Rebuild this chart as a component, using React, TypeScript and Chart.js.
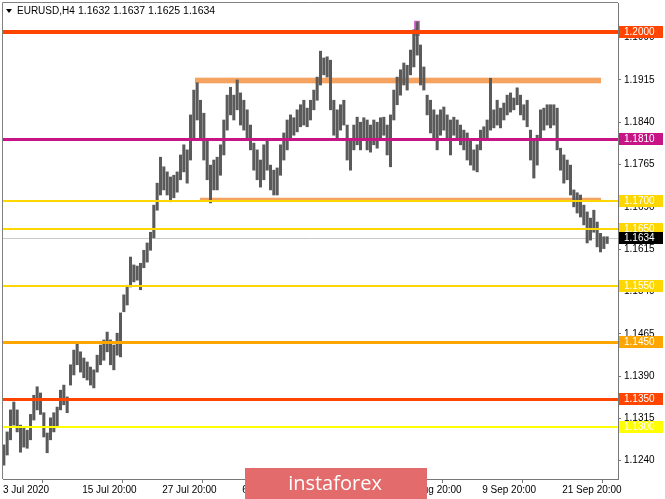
import React, { useEffect, useRef } from "react";
import { Chart, registerables } from "chart.js";
Chart.register(...registerables);

// H4 bars, sampled every 2nd bar (index in H4 bars = 2 * position)
const highs = [
  1.1268, 1.1291, 1.1330, 1.1344, 1.1330, 1.1303, 1.1298, 1.1294, 1.1322, 1.1356,
  1.1371, 1.1360, 1.1325, 1.1289, 1.1316, 1.1325, 1.1335, 1.1365, 1.1374, 1.1353,
  1.1410, 1.1436, 1.1449, 1.1433, 1.1422, 1.1415, 1.1406, 1.1401, 1.1427, 1.1445,
  1.1454, 1.1468, 1.1454, 1.1445, 1.1466, 1.1502, 1.1534, 1.1551, 1.1601, 1.1587,
  1.1585, 1.1590, 1.1613, 1.1626, 1.1645, 1.1693, 1.1732, 1.1778, 1.1761, 1.1752,
  1.1743, 1.1746, 1.1752, 1.1782, 1.1800, 1.1791, 1.1853, 1.1897, 1.1910, 1.1879,
  1.1856, 1.1809, 1.1764, 1.1773, 1.1778, 1.1800, 1.1844, 1.1888, 1.1902, 1.1888,
  1.1915, 1.1892, 1.1879, 1.1862, 1.1835, 1.1803, 1.1791, 1.1773, 1.1800, 1.1809,
  1.1764, 1.1755, 1.1759, 1.1800, 1.1821, 1.1844, 1.1853, 1.1848, 1.1862, 1.1871,
  1.1879, 1.1865, 1.1879, 1.1897, 1.1920, 1.1966, 1.1954, 1.1956, 1.1950, 1.1879,
  1.1862, 1.1871, 1.1879, 1.1835, 1.1809, 1.1835, 1.1849, 1.1840, 1.1848, 1.1844,
  1.1835, 1.1844, 1.1840, 1.1848, 1.1849, 1.1835, 1.1853, 1.1897, 1.1920, 1.1933,
  1.1945, 1.1941, 1.1968, 1.2004, 1.2018, 1.1977, 1.1938, 1.1888, 1.1879, 1.1862,
  1.1853, 1.1862, 1.1867, 1.1853, 1.1844, 1.1849, 1.1844, 1.1835, 1.1826, 1.1821,
  1.1809, 1.1791, 1.1800, 1.1826, 1.1832, 1.1844, 1.1918, 1.1862, 1.1879, 1.1865,
  1.1874, 1.1888, 1.1892, 1.1883, 1.1901, 1.1888, 1.1871, 1.1879, 1.1826, 1.1809,
  1.1817, 1.1862, 1.1865, 1.1871, 1.1871, 1.1871, 1.1865, 1.1794, 1.1782, 1.1773,
  1.1764, 1.1720, 1.1715, 1.1711, 1.1693, 1.1681, 1.1670, 1.1684, 1.1663, 1.1643,
  1.1637, 1.1637,
];
const lows = [
  1.1232, 1.1250, 1.1277, 1.1303, 1.1291, 1.1255, 1.1264, 1.1262, 1.1277, 1.1312,
  1.1330, 1.1322, 1.1282, 1.1254, 1.1277, 1.1291, 1.1300, 1.1330, 1.1339, 1.1325,
  1.1374, 1.1392, 1.1410, 1.1397, 1.1387, 1.1383, 1.1374, 1.1369, 1.1397, 1.1410,
  1.1418, 1.1433, 1.1410, 1.1401, 1.1427, 1.1424, 1.1504, 1.1516, 1.1548, 1.1557,
  1.1560, 1.1543, 1.1582, 1.1592, 1.1613, 1.1635, 1.1684, 1.1711, 1.1720, 1.1711,
  1.1699, 1.1706, 1.1716, 1.1738, 1.1752, 1.1732, 1.1773, 1.1809, 1.1844, 1.1809,
  1.1773, 1.1738, 1.1697, 1.1720, 1.1720, 1.1746, 1.1782, 1.1826, 1.1853, 1.1844,
  1.1862, 1.1835, 1.1826, 1.1809, 1.1791, 1.1755, 1.1738, 1.1725, 1.1738, 1.1755,
  1.1720, 1.1711, 1.1711, 1.1746, 1.1773, 1.1791, 1.1809, 1.1817, 1.1823, 1.1832,
  1.1835, 1.1832, 1.1844, 1.1862, 1.1879, 1.1906, 1.1924, 1.1920, 1.1862, 1.1817,
  1.1809, 1.1826, 1.1835, 1.1773, 1.1755, 1.1791, 1.1800, 1.1791, 1.1809, 1.1791,
  1.1787, 1.1800, 1.1794, 1.1809, 1.1817, 1.1782, 1.1761, 1.1844, 1.1871, 1.1888,
  1.1906, 1.1897, 1.1924, 1.1938, 1.1959, 1.1906, 1.1897, 1.1853, 1.1821, 1.1809,
  1.1791, 1.1817, 1.1826, 1.1809, 1.1782, 1.1817, 1.1809, 1.1800, 1.1791, 1.1773,
  1.1764, 1.1755, 1.1752, 1.1791, 1.1809, 1.1812, 1.1826, 1.1830, 1.1835, 1.1830,
  1.1844, 1.1853, 1.1858, 1.1862, 1.1871, 1.1853, 1.1844, 1.1832, 1.1773, 1.1741,
  1.1764, 1.1809, 1.1826, 1.1835, 1.1830, 1.1835, 1.1791, 1.1755, 1.1732, 1.1738,
  1.1711, 1.1690, 1.1679, 1.1672, 1.1658, 1.1626, 1.1631, 1.1645, 1.1619, 1.1610,
  1.1616, 1.1625,
];

const xTickPositions = [-0.5, 47, 95, 143, 191, 239, 287, 335];
const xTickLabels = [
  "3 Jul 2020", "15 Jul 20:00", "27 Jul 20:00", "6 Aug 20:00",
  "18 Aug 20:00", "28 Aug 20:00", "9 Sep 20:00", "21 Sep 20:00",
];
const yTickValues = [
  1.1240, 1.1315, 1.1390, 1.1465, 1.1540, 1.1615, 1.1690, 1.1765, 1.1840, 1.1915, 1.1990,
];

const levelPrices = [1.2000, 1.1810, 1.1700, 1.1650, 1.1550, 1.1450, 1.1350, 1.1300];
const levelColors = ["#FF4500", "#C71585", "#FFD700", "#FFD700", "#FFD700", "#FFA500", "#FF4500", "#FFFF00"];
const levelWidths = [4, 3, 2, 2, 2, 3, 3, 2];

const lastPrice = 1.1634;
const headerSymbol = "EURUSD,H4";
const headerOHLC = "1.1632 1.1637 1.1625 1.1634";

// rectangles: start/end in H4 bar index, top/bottom in price
const zoneStart = [114.7, 117.7, 246.1];
const zoneEnd = [358.3, 358.3, 249.7];
const zoneTop = [1.1919, 1.17062, 1.2020];
const zoneBottom = [1.1909, 1.17004, 1.1993];
const zoneColors = ["#F4A460", "#F4A460", "#DA70D6"];

const FONT = "'Liberation Sans', Arial, sans-serif";

const overlayPlugin = {
  id: "overlay",
  beforeDatasetsDraw(chart: any) {
    const { ctx, chartArea: a, scales } = chart;
    const x = scales.x, y = scales.y;
    ctx.save();
    ctx.beginPath();
    ctx.rect(a.left, a.top, a.right - a.left, a.bottom - a.top);
    ctx.clip();
    const py = Math.round(y.getPixelForValue(lastPrice)) + 0.5;
    ctx.strokeStyle = "#C8C8C8";
    ctx.lineWidth = 1;
    ctx.beginPath();
    ctx.moveTo(a.left, py);
    ctx.lineTo(a.right, py);
    ctx.stroke();
    for (let i = 0; i < zoneStart.length; i++) {
      const x0 = x.getPixelForValue(zoneStart[i]);
      const x1 = x.getPixelForValue(zoneEnd[i]);
      const y0 = y.getPixelForValue(zoneTop[i]);
      const y1 = y.getPixelForValue(zoneBottom[i]);
      ctx.fillStyle = zoneColors[i];
      ctx.fillRect(x0, y0, x1 - x0, y1 - y0);
    }
    ctx.restore();
  },
  afterDatasetsDraw(chart: any) {
    const { ctx, chartArea: a, scales } = chart;
    const y = scales.y;
    ctx.save();
    for (let i = 0; i < levelPrices.length; i++) {
      const w = levelWidths[i];
      let py = Math.round(y.getPixelForValue(levelPrices[i]));
      if (w % 2 === 1) py += 0.5;
      ctx.strokeStyle = levelColors[i];
      ctx.lineWidth = w;
      ctx.beginPath();
      ctx.moveTo(a.left, py);
      ctx.lineTo(a.right, py);
      ctx.stroke();
    }
    ctx.restore();
  },
  afterDraw(chart: any) {
    const { ctx, chartArea: a, scales } = chart;
    const y = scales.y;
    ctx.save();
    // frame
    ctx.strokeStyle = "#808080";
    ctx.lineWidth = 1;
    ctx.beginPath();
    ctx.moveTo(a.left - 0.5, a.bottom);
    ctx.lineTo(a.left - 0.5, a.top - 0.5);
    ctx.lineTo(a.right, a.top - 0.5);
    ctx.stroke();
    // level labels
    ctx.font = "10px " + FONT;
    ctx.textBaseline = "middle";
    ctx.textAlign = "left";
    const drawBox = (price: number, bg: string) => {
      const py = Math.round(y.getPixelForValue(price));
      ctx.fillStyle = bg;
      ctx.fillRect(a.right + 1, py - 6, 44, 12);
      ctx.fillStyle = "#FFFFFF";
      ctx.fillText(price.toFixed(4), a.right + 6, py + 0.5);
    };
    for (let i = 0; i < levelPrices.length; i++) drawBox(levelPrices[i], levelColors[i]);
    drawBox(lastPrice, "#000000");
    // header
    ctx.fillStyle = "#000000";
    ctx.beginPath();
    ctx.moveTo(6, 9);
    ctx.lineTo(12, 9);
    ctx.lineTo(9, 13);
    ctx.closePath();
    ctx.fill();
    ctx.font = "10px " + FONT;
    ctx.fillText(headerSymbol, 17, 11);
    ctx.font = "10.5px " + FONT;
    ctx.fillText(headerOHLC, 78, 11);
    // watermark
    ctx.fillStyle = "#E36B6B";
    ctx.fillRect(245, 468, 182, 31);
    ctx.fillStyle = "#FFFFFF";
    ctx.font = "20px 'Open Sans', " + FONT;
    ctx.textAlign = "center";
    ctx.fillText("instaforex", 335, 484);
    ctx.restore();
  },
};

export default function App() {
  const ref = useRef<HTMLCanvasElement>(null);
  useEffect(() => {
    if (!ref.current) return;
    const data = highs.map((h, i) => ({ x: i * 2, y: [lows[i], h] }));
    const chart = new Chart(ref.current, {
      type: "bar",
      data: {
        datasets: [
          {
            data: data as any,
            backgroundColor: "#5a5a5a",
            barThickness: 2.4,
            borderWidth: 0,
          },
        ],
      },
      options: {
        animation: false,
        responsive: false,
        devicePixelRatio: 1,
        layout: { padding: { left: 3, top: 3, right: 0, bottom: 0 } },
        plugins: { legend: { display: false }, tooltip: { enabled: false } },
        scales: {
          x: {
            type: "linear",
            position: "bottom",
            min: -0.5,
            max: 368.5,
            offset: false,
            afterBuildTicks: (s: any) => {
              s.ticks = xTickPositions.map((v) => ({ value: v }));
            },
            afterFit: (s: any) => {
              s.height = 20;
              s.paddingLeft = 0;
              s.paddingRight = 0;
            },
            ticks: {
              autoSkip: false,
              maxRotation: 0,
              align: "start",
              padding: 1,
              color: "#000000",
              font: { family: FONT, size: 10 },
              callback: (_v: any, i: number) => xTickLabels[i],
            },
            grid: { display: true, drawOnChartArea: false, tickLength: 4, color: "#777777" },
            border: { display: true, color: "#777777" },
          },
          y: {
            type: "linear",
            position: "right",
            min: 1.12075,
            max: 1.20514,
            afterBuildTicks: (s: any) => {
              s.ticks = yTickValues.map((v) => ({ value: v }));
            },
            afterFit: (s: any) => {
              s.width = 47;
              s.paddingTop = 0;
              s.paddingBottom = 0;
            },
            ticks: {
              padding: 3,
              color: "#000000",
              font: { family: FONT, size: 10 },
              callback: (v: any) => Number(v).toFixed(4),
            },
            grid: { display: true, drawOnChartArea: false, tickLength: 3, color: "#777777" },
            border: { display: true, color: "#777777" },
          },
        },
      },
      plugins: [overlayPlugin],
    });
    return () => chart.destroy();
  }, []);
  return (
    <div style={{ position: "absolute", left: 0, top: 0, width: 665, height: 499, background: "#fff" }}>
      <canvas ref={ref} width={665} height={499} />
    </div>
  );
}
